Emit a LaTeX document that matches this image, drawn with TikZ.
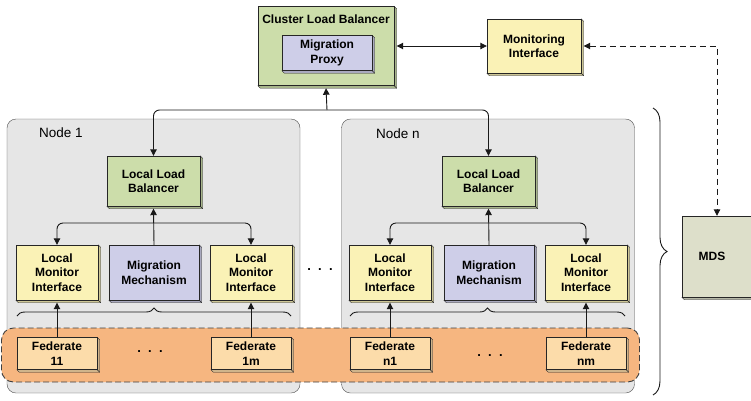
\documentclass[tikz,border=0pt]{standalone}
\usepackage{fontspec}
\setmainfont{Liberation Sans}
\usetikzlibrary{arrows.meta, decorations.pathreplacing}

\definecolor{lbgreen}{RGB}{204,221,170}
\definecolor{migblue}{RGB}{206,206,232}
\definecolor{monyellow}{RGB}{250,242,182}
\definecolor{fedorange}{RGB}{252,220,170}
\definecolor{bandorange}{RGB}{246,182,128}
\definecolor{panelgray}{RGB}{230,230,230}
\definecolor{mdsgray}{RGB}{221,223,202}

\tikzset{
  box/.style={draw=black!85, fill=#1, align=center, inner sep=1pt,
    font=\bfseries\fontsize{12}{14.5}\selectfont,
    append after command={\pgfextra{
      \draw[draw=black!85, fill=#1!82!black, line join=round]
        (\tikzlastnode.north east) -- ++(2.5pt,-2.5pt)
        |- ([shift={(2.5pt,-2.5pt)}]\tikzlastnode.south west)
        -- (\tikzlastnode.south west) -- (\tikzlastnode.south east) -- cycle;
      \draw[black!85] (\tikzlastnode.south east) -- ++(2.5pt,-2.5pt);}}},
  panel/.style={draw=black!70, fill=panelgray, rounded corners=9pt,
    minimum width=293, minimum height=274},
  title/.style={font=\fontsize{13.5}{16}\selectfont},
  dots/.style={font=\bfseries\fontsize{13}{14}\selectfont, inner sep=0pt},
  link/.style={black!90, line width=0.9pt},
}

\begin{document}
\begin{tikzpicture}[x=1pt, y=-1pt, >={Triangle[length=6.5pt,width=6.5pt]}]
\useasboundingbox (0,0) rectangle (751,400);

\node[panel] (node1) at (153.5,256) {};
\node[panel] (noden) at (488,256) {};
\node[title] (title1) at (61,133) {Node 1};
\node[title] (titlen) at (398,134) {Node n};

\node[draw=black!75, fill=bandorange, rounded corners=12pt, dash pattern=on 6pt off 3pt,
  line width=0.9pt, minimum width=638, minimum height=54] (band) at (320.5,355) {};

\node[box=lbgreen, minimum width=136, minimum height=79,
  label={[font=\bfseries\fontsize{12}{14}\selectfont, anchor=north, inner sep=0pt, yshift=-8pt]north:Cluster Load Balancer}]
  (clb) at (326,46) {};
\node[box=migblue, minimum width=90, minimum height=35] (proxy) at (327,53) {Migration\\Proxy};
\node[box=monyellow, minimum width=94, minimum height=54] (monitor) at (534,46) {Monitoring\\Interface};
\node[box=mdsgray, minimum width=70, minimum height=81,
  label={[font=\bfseries\fontsize{12}{14}\selectfont, xshift=-5pt]center:MDS}] (mds) at (717,256.5) {};

\node[box=lbgreen, minimum width=93, minimum height=50] (llb1) at (153.5,181) {Local Load\\Balancer};
\node[box=lbgreen, minimum width=93, minimum height=50] (llbn) at (488.5,181) {Local Load\\Balancer};

\node[box=monyellow, minimum width=82, minimum height=55] (lmi11) at (57,272.5) {Local\\Monitor\\Interface};
\node[box=migblue, minimum width=90, minimum height=55] (mm1) at (154,272.5) {Migration\\Mechanism};
\node[box=monyellow, minimum width=82, minimum height=55] (lmi12) at (251,272.5) {Local\\Monitor\\Interface};
\node[box=monyellow, minimum width=82, minimum height=55] (lmin1) at (390,272.5) {Local\\Monitor\\Interface};
\node[box=migblue, minimum width=90, minimum height=55] (mmn) at (489,272.5) {Migration\\Mechanism};
\node[box=monyellow, minimum width=82, minimum height=55] (lmin2) at (586,272.5) {Local\\Monitor\\Interface};

\node[box=fedorange, minimum width=80, minimum height=32] (fed11) at (57,353.5) {Federate\\11};
\node[box=fedorange, minimum width=80, minimum height=32] (fed1m) at (251,353.5) {Federate\\1m};
\node[box=fedorange, minimum width=80, minimum height=32] (fedn1) at (390,353.5) {Federate\\n1};
\node[box=fedorange, minimum width=80, minimum height=32] (fednm) at (586,353.5) {Federate\\nm};

\node[dots] (dots1) at (150,352) {.~~.~~.};
\node[dots] (dotsn) at (490,356) {.~~.~~.};
\node[dots] (dotsmid) at (320,270) {.~~.~~.};

\coordinate (bus) at (327,110);
\coordinate (fork1) at (154,223);
\coordinate (forkn) at (489,223);

\draw[link, <->] ([xshift=2.5pt]clb.east) -- (monitor.west);
\draw[link, <->, dash pattern=on 6pt off 4pt] ([xshift=2.5pt]monitor.east) -| (mds.north);
\draw[link, <->, rounded corners=6pt] (llb1.north) |- (bus) -| (llbn.north);
\draw[link, ->] (bus) -- ([yshift=-2.5pt]clb.south);

\draw[link, ->] (mm1.north) -- ([yshift=-2.5pt]llb1.south);
\draw[link, <->, rounded corners=6pt] (lmi11.north) |- (fork1) -| (lmi12.north);
\draw[link, ->] (mmn.north) -- ([yshift=-2.5pt]llbn.south);
\draw[link, <->, rounded corners=6pt] (lmin1.north) |- (forkn) -| (lmin2.north);

\draw[link, ->] (fed11.north) -- ([yshift=-2.5pt]lmi11.south);
\draw[link, ->] (fed1m.north) -- ([yshift=-2.5pt]lmi12.south);
\draw[link, ->] (fedn1.north) -- ([yshift=-2.5pt]lmin1.south);
\draw[link, ->] (fednm.north) -- ([yshift=-2.5pt]lmin2.south);

\draw[link, decorate, decoration={brace, amplitude=8pt}] (17,316) -- (291,316);
\draw[link, decorate, decoration={brace, amplitude=8pt}] (350,316) -- (625,316);
\draw[link, decorate, decoration={brace, amplitude=14pt}] (653,108) -- (653,395);
\end{tikzpicture}
\end{document}
